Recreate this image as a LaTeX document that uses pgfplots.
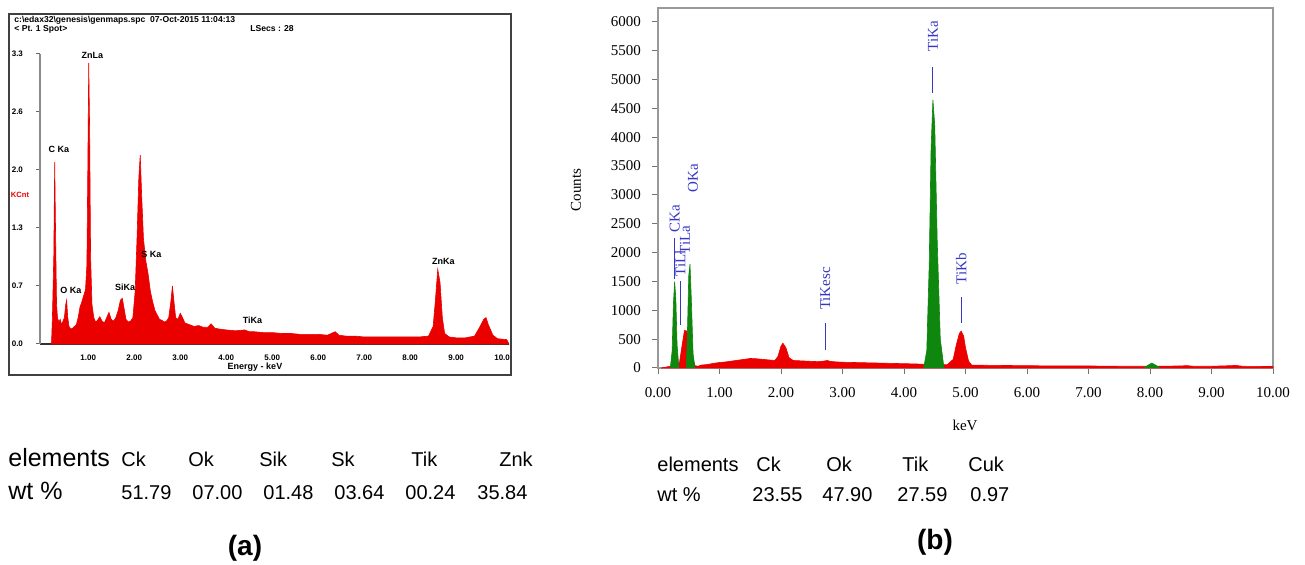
\documentclass[border=0pt]{standalone}
\usepackage{fontspec}
\setmainfont{Liberation Sans}
\newfontfamily\serif{Liberation Serif}
\usepackage{pgfplots}
\pgfplotsset{compat=1.18}

\definecolor{specred}{RGB}{235,0,0}
\definecolor{specgreen}{RGB}{15,135,15}
\definecolor{lblblue}{RGB}{55,55,195}

% spectrum (a), energy in keV, counts in KCnt
\pgfplotstableread{
x y
0.20 0
0.22 0.30
0.25 1.00
0.27 2.07
0.29 1.20
0.31 0.45
0.33 0.30
0.36 0.25
0.39 0.28
0.42 0.22
0.45 0.26
0.48 0.30
0.51 0.45
0.53 0.50
0.55 0.32
0.58 0.20
0.62 0.17
0.66 0.18
0.70 0.20
0.74 0.22
0.78 0.30
0.82 0.42
0.86 0.48
0.90 0.55
0.94 0.62
0.97 0.90
0.99 2.00
1.01 3.20
1.03 2.40
1.05 1.00
1.08 0.45
1.12 0.30
1.16 0.25
1.20 0.27
1.25 0.31
1.30 0.26
1.35 0.24
1.40 0.30
1.45 0.36
1.50 0.28
1.55 0.26
1.60 0.30
1.65 0.38
1.70 0.50
1.74 0.52
1.78 0.40
1.82 0.28
1.87 0.25
1.92 0.26
1.97 0.30
2.02 0.60
2.06 1.20
2.10 1.90
2.13 2.15
2.16 1.70
2.20 1.20
2.25 0.95
2.30 0.80
2.35 0.60
2.40 0.48
2.45 0.38
2.50 0.33
2.55 0.28
2.60 0.27
2.65 0.25
2.70 0.26
2.75 0.30
2.80 0.50
2.83 0.66
2.86 0.50
2.90 0.30
2.95 0.28
3.00 0.35
3.05 0.30
3.10 0.24
3.20 0.22
3.30 0.20
3.40 0.21
3.50 0.19
3.60 0.19
3.67 0.23
3.75 0.18
3.85 0.17
4.00 0.16
4.20 0.15
4.40 0.16
4.50 0.14
4.60 0.14
4.80 0.13
5.00 0.13
5.20 0.12
5.40 0.12
5.60 0.11
5.80 0.11
6.00 0.11
6.20 0.10
6.37 0.14
6.45 0.10
6.60 0.09
6.80 0.09
7.00 0.08
7.20 0.08
7.40 0.08
7.60 0.08
7.80 0.08
8.00 0.08
8.20 0.08
8.40 0.09
8.50 0.20
8.55 0.50
8.60 0.85
8.65 0.70
8.70 0.30
8.75 0.12
8.85 0.08
9.00 0.07
9.20 0.07
9.40 0.09
9.50 0.18
9.60 0.28
9.65 0.30
9.70 0.22
9.80 0.10
9.90 0.06
10.10 0.05
10.15 0
}\specA

% spectrum (b), background and unmarked peaks
\pgfplotstableread{
x y
0.05 0
0.10 10
0.15 20
0.20 30
0.25 40
0.30 50
0.35 100
0.40 450
0.43 650
0.47 640
0.50 500
0.55 250
0.60 40
0.65 30
0.70 50
0.80 60
0.90 80
1.00 95
1.10 105
1.20 120
1.30 135
1.40 150
1.50 165
1.60 160
1.70 150
1.80 140
1.90 130
1.95 200
2.00 380
2.03 430
2.08 350
2.13 180
2.20 130
2.30 125
2.40 120
2.50 115
2.60 110
2.70 120
2.75 130
2.80 115
2.90 105
3.00 100
3.20 95
3.40 90
3.60 85
3.80 80
4.00 75
4.20 70
4.30 65
4.40 60
4.60 60
4.70 55
4.80 150
4.85 400
4.90 600
4.93 640
4.97 550
5.00 350
5.05 120
5.10 50
5.50 45
6.00 40
6.50 35
7.00 35
7.50 30
8.00 30
8.50 35
8.60 42
8.70 30
9.00 30
9.30 40
9.40 45
9.50 30
10.00 25
}\specB

\begin{document}
\begin{tikzpicture}
\path[use as bounding box] (0,0) rectangle (652.5pt,-282.5pt);

% ---------- panel (a) ----------
\begin{axis}[
  at={(20pt,-172pt)}, anchor=south west,
  scale only axis, width=234.5pt, height=145pt,
  xmin=-0.05, xmax=10.15, ymin=0, ymax=3.3,
  axis x line=bottom, axis y line=left,
  x axis line style={-, black!80, line width=0.8pt},
  y axis line style={-, black!45, line width=0.8pt},
  xtick={1,...,10},
  xticklabels={1.00,2.00,3.00,4.00,5.00,6.00,7.00,8.00,9.00,10.0},
  ytick={0,0.66,1.32,1.98,2.64,3.3},
  yticklabels={0.0,0.7,1.3,2.0,2.6,3.3},
  xtick style={draw=none},
  ytick style={black!60, line width=0.5pt},
  tick align=outside, major tick length=2pt,
  tick label style={font=\bfseries\fontsize{4}{5}\selectfont},
  yticklabel style={xshift=-3pt},
  clip=false,
]
\addplot[draw=specred, fill=specred, line width=0.3pt] table {\specA} \closedcycle;
\begin{scope}[every node/.style={font=\bfseries\fontsize{4.5}{5}\selectfont, inner sep=0}]
\node at (axis cs:1.09,3.28) {ZnLa};
\node at (axis cs:0.36,2.21) {C Ka};
\node at (axis cs:0.62,0.61) {O Ka};
\node at (axis cs:1.80,0.65) {SiKa};
\node at (axis cs:2.37,1.02) {S Ka};
\node at (axis cs:4.57,0.27) {TiKa};
\node at (axis cs:8.72,0.94) {ZnKa};
\end{scope}
\end{axis}

\begin{scope}[x=0.5pt, y=-0.5pt]
\draw[line width=1.2pt, black!75] (9,14) rectangle (511,375);
\node[anchor=west, inner sep=0, font=\bfseries\fontsize{4.3}{5}\selectfont] at (14,20)
  {c:\textbackslash edax32\textbackslash genesis\textbackslash genmaps.spc\ \ 07-Oct-2015 11:04:13};
\node[anchor=west, inner sep=0, font=\bfseries\fontsize{4.3}{5}\selectfont] at (14,29) {< Pt. 1 Spot>};
\node[anchor=west, inner sep=0, font=\bfseries\fontsize{4.3}{5}\selectfont] at (250,29) {LSecs : 28};
\node[inner sep=0, text=specred, font=\bfseries\fontsize{3.8}{5}\selectfont] at (20,195) {KCnt};
\node[inner sep=0, font=\bfseries\fontsize{4.5}{5}\selectfont] at (255,367) {Energy - keV};
\end{scope}

% ---------- panel (b) ----------
\begin{axis}[
  at={(329pt,-184pt)}, anchor=south west,
  scale only axis, width=307.5pt, height=180pt,
  xmin=0, xmax=10, ymin=0, ymax=6240,
  axis line style={black!40, line width=0.6pt},
  xtick={0,...,10},
  xticklabels={0.00,1.00,2.00,3.00,4.00,5.00,6.00,7.00,8.00,9.00,10.00},
  ytick={0,500,...,6000},
  xtick pos=bottom, ytick pos=left,
  tick align=outside, major tick length=3pt,
  tick style={black!55, line width=0.5pt},
  scaled y ticks=false,
  yticklabel style={/pgf/number format/1000 sep={}, xshift=-2pt},
  xticklabel style={yshift=-3pt},
  tick label style={font=\serif\fontsize{7.5}{9}\selectfont, /pgf/number format/assume math mode=true},
  clip=false,
]
\addplot[draw=specred, fill=specred, line width=0.3pt] table {\specB} \closedcycle;
% C Ka
\addplot[draw=specgreen, fill=specgreen, line width=0.3pt] coordinates {
  (0.20,0) (0.23,300) (0.25,1100) (0.27,1500) (0.29,1200) (0.31,400) (0.34,0)};
% O Ka
\addplot[draw=specgreen, fill=specgreen, line width=0.3pt] coordinates {
  (0.46,0) (0.48,700) (0.50,1600) (0.52,1800) (0.54,1250) (0.57,250) (0.60,0)};
% Ti Ka
\addplot[draw=specgreen, fill=specgreen, line width=0.3pt] coordinates {
  (4.32,0) (4.37,300) (4.41,1800) (4.44,3800) (4.47,4650) (4.50,4200) (4.54,2200) (4.59,500) (4.65,0)};
% Cu Ka
\addplot[draw=specgreen, fill=specgreen, line width=0.3pt] coordinates {
  (7.90,0) (7.97,50) (8.03,85) (8.09,50) (8.16,0)};

\begin{scope}[every node/.style={rotate=90, anchor=west, inner sep=0, text=lblblue,
    font=\serif\fontsize{7.5}{9}\selectfont}]
\node at (axis cs:4.47,5480) {TiKa};
\node at (axis cs:4.93,1440) {TiKb};
\node at (axis cs:2.72,1000) {TiKesc};
\node at (axis cs:0.27,2340) {CKa};
\node at (axis cs:0.44,1960) {TiLa};
\node at (axis cs:0.36,1580) {TiLl};
\node at (axis cs:0.57,3040) {OKa};
\end{scope}
\begin{scope}[lblblue, line width=0.5pt]
\draw (axis cs:4.47,4770) -- (axis cs:4.47,5220);
\draw (axis cs:4.93,780) -- (axis cs:4.93,1230);
\draw (axis cs:2.72,310) -- (axis cs:2.72,780);
\draw (axis cs:0.27,1550) -- (axis cs:0.27,2250);
\draw (axis cs:0.36,750) -- (axis cs:0.36,1500);
\end{scope}
\end{axis}

\begin{scope}[x=0.5pt, y=-0.5pt]
\node[rotate=90, inner sep=0, font=\serif\fontsize{7.5}{9}\selectfont] at (576,190) {Counts};
\node[inner sep=0, font=\serif\fontsize{7.5}{9}\selectfont] at (965,425) {keV};

% table (a)
\begin{scope}[every node/.style={anchor=base west, inner sep=0, font=\fontsize{10}{12}\selectfont}]
\node[font=\fontsize{12.5}{14}\selectfont] at (8,467) {elements};
\node[font=\fontsize{12.5}{14}\selectfont] at (8,500) {wt \%};
\node at (121,467) {Ck};
\node at (188,467) {Ok};
\node at (259,467) {Sik};
\node at (331,467) {Sk};
\node at (411,467) {Tik};
\node at (499,467) {Znk};
\node at (121,500) {51.79};
\node at (192,500) {07.00};
\node at (263,500) {01.48};
\node at (334,500) {03.64};
\node at (405,500) {00.24};
\node at (477,500) {35.84};
% table (b)
\node at (657,472) {elements};
\node at (657,502) {wt \%};
\node at (756,472) {Ck};
\node at (826,472) {Ok};
\node at (902,472) {Tik};
\node at (968,472) {Cuk};
\node at (752,502) {23.55};
\node at (822,502) {47.90};
\node at (897,502) {27.59};
\node at (970,502) {0.97};
\end{scope}
\node[inner sep=0, font=\bfseries\fontsize{14}{16}\selectfont] at (245,548) {(a)};
\node[inner sep=0, font=\bfseries\fontsize{14}{16}\selectfont] at (935,542) {(b)};
\end{scope}
\end{tikzpicture}
\end{document}
